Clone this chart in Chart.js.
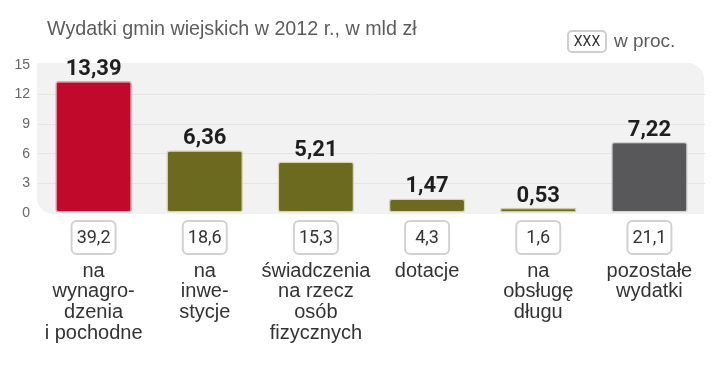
<!DOCTYPE html>
<html><head><meta charset="utf-8">
<script src="https://cdn.jsdelivr.net/npm/chart.js@4"></script>
<style>html,body{margin:0;padding:0;background:#fff}#wrap{width:720px;height:377px;position:relative}</style>
</head><body><div id="wrap"><canvas id="c" width="720" height="377"></canvas></div>
<script>
const titleText = 'Wydatki gmin wiejskich w 2012 r., w mld zł';
const legendBox = 'XXX';
const legendText = 'w proc.';
const categories = [['na','wynagro-','dzenia','i pochodne'], ['na','inwe-','stycje'], ['świadczenia','na rzecz','osób','fizycznych'], ['dotacje'], ['na','obsługę','długu'], ['pozostałe','wydatki']];
const values = [13.39, 6.36, 5.21, 1.47, 0.53, 7.22];
const shares = ['39,2','18,6','15,3','4,3','1,6','21,1'];
const yTicks = [0, 3, 6, 9, 12, 15];

const barColors = ['#c1092b','#6b6a1f','#6b6a1f','#6b6a1f','#6b6a1f','#58585a'];
const barBorders = ['#eaa6b0','#d9d6b0','#d9d6b0','#d9d6b0','#cfcca4','#d4d4d4'];

const decor = {
  id: 'decor',
  beforeDraw(chart) {
    const {ctx, chartArea: a} = chart;
    ctx.save();
    ctx.fillStyle = '#f2f2f2';
    ctx.beginPath();
    ctx.roundRect(a.left - 1, a.top - 2, a.right - a.left, a.bottom - a.top + 3, [0, 16, 0, 16]);
    ctx.fill();
    // title
    ctx.fillStyle = '#5c5c5c';
    ctx.font = '19.7px "Liberation Sans", Arial, sans-serif';
    ctx.textBaseline = 'middle';
    ctx.textAlign = 'left';
    ctx.fillText(titleText, 47, 30);
    // legend
    ctx.fillStyle = '#fff';
    ctx.strokeStyle = '#cfcfcf';
    ctx.lineWidth = 2;
    ctx.beginPath();
    ctx.roundRect(568, 31, 38, 21, 4);
    ctx.fill(); ctx.stroke();
    ctx.fillStyle = '#333';
    ctx.font = '14px Roboto, sans-serif';
    ctx.textAlign = 'center';
    ctx.fillText(legendBox, 587, 42);
    ctx.fillStyle = '#5c5c5c';
    ctx.font = '19px "Liberation Sans", Arial, sans-serif';
    ctx.textAlign = 'left';
    ctx.fillText(legendText, 614, 42);
    ctx.restore();
  },
  afterDatasetsDraw(chart) {
    const {ctx} = chart;
    const xs = chart.scales.x, ys = chart.scales.y;
    ctx.save();
    values.forEach((v, i) => {
      const x = xs.getPixelForValue(i);
      const y = ys.getPixelForValue(v);
      ctx.fillStyle = '#1e1e1e';
      ctx.font = 'bold 22px Roboto, sans-serif';
      ctx.textAlign = 'center';
      ctx.textBaseline = 'alphabetic';
      ctx.fillText(v.toFixed(2).replace('.', ','), x, y - 6);
      // share box
      const bw = 44, bh = 33, by = ys.bottom + 8;
      ctx.fillStyle = '#fff';
      ctx.strokeStyle = '#d2d2d2';
      ctx.lineWidth = 2;
      ctx.beginPath();
      ctx.roundRect(x - bw / 2, by, bw, bh, 5);
      ctx.fill(); ctx.stroke();
      ctx.fillStyle = '#333';
      ctx.font = '18px Roboto, sans-serif';
      ctx.textBaseline = 'middle';
      ctx.fillText(shares[i], x, by + bh / 2 + 1);
    });
    ctx.restore();
  }
};

new Chart(document.getElementById('c'), {
  type: 'bar',
  data: {
    labels: categories,
    datasets: [{
      data: values,
      backgroundColor: barColors,
      borderColor: barBorders,
      borderWidth: 1.5,
      borderRadius: 3,
      borderSkipped: false,
      barPercentage: 0.69,
      categoryPercentage: 1
    }]
  },
  options: {
    responsive: false,
    animation: false,
    layout: { padding: { top: 65, right: 15, left: 0, bottom: 0 } },
    plugins: { legend: { display: false }, title: { display: false }, tooltip: { enabled: false } },
    scales: {
      x: {
        grid: { display: false, drawTicks: false },
        border: { display: false },
        afterFit: s => { s.height = 164; s.paddingLeft = 0; s.paddingRight = 0; },
        ticks: {
          color: '#333',
          padding: 48,
          maxRotation: 0,
          autoSkip: false,
          font: { size: 20, family: '"Liberation Sans", Arial, sans-serif', lineHeight: 1.03 }
        }
      },
      y: {
        min: 0, max: 15,
        afterFit: s => { s.width = 38; },
        afterBuildTicks: s => { s.ticks = yTicks.map(v => ({ value: v })); },
        border: { display: false },
        grid: {
          drawTicks: false,
          color: c => (c.tick && (c.tick.value === 0 || c.tick.value === 15)) ? 'rgba(0,0,0,0)' : '#e4e4e4',
          lineWidth: 1
        },
        ticks: {
          color: '#666',
          padding: 8,
          font: { size: 14, family: '"Liberation Sans", Arial, sans-serif' }
        }
      }
    }
  },
  plugins: [decor]
});
</script></body></html>
